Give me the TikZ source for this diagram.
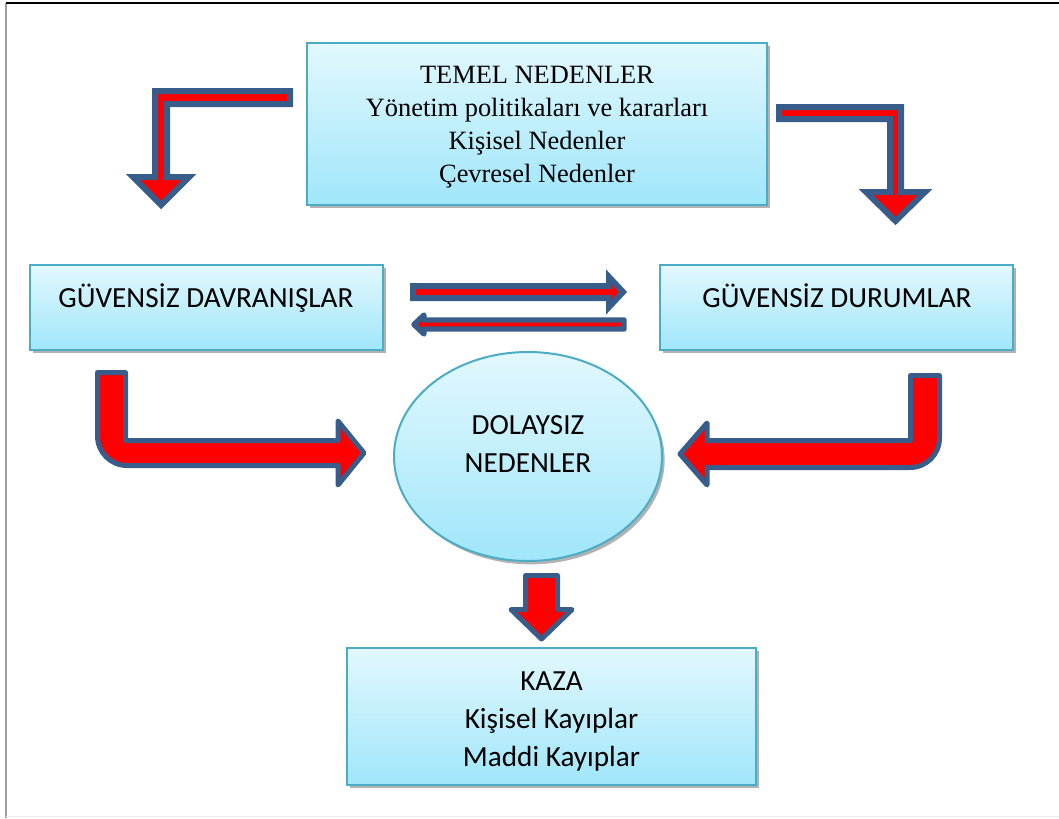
\documentclass[tikz,border=0pt]{standalone}
\usepackage{fontspec}
\setmainfont{Liberation Serif}
\setsansfont{Carlito}
\usetikzlibrary{shadows,fit,shapes.geometric}

\definecolor{boxedge}{RGB}{75,172,198}
\definecolor{boxtop}{RGB}{226,248,254}
\definecolor{boxbot}{RGB}{160,230,250}
\definecolor{arrowedge}{RGB}{56,93,138}
\definecolor{arrowfill}{RGB}{255,0,0}

\tikzset{
  panel/.style={draw=boxedge, line width=1.5pt, top color=boxtop, bottom color=boxbot,
    inner sep=0pt, drop shadow={shadow xshift=2pt, shadow yshift=-2.5pt, fill=black, opacity=0.3}},
  sanslabel/.style={font=\sffamily\fontsize{21.9}{28.5}\selectfont, align=center, inner sep=0pt},
  seriflabel/.style={font=\fontsize{19.8}{24.75}\selectfont, align=center, inner sep=0pt},
  blockarrow/.style={fill=arrowfill, draw=arrowedge, line width=4.5pt, line join=miter},
  roundarrow/.style={fill=arrowfill, draw=arrowedge, line width=3.75pt, line join=round},
}

\begin{document}
\begin{tikzpicture}[x=0.75pt, y=-0.75pt]
\useasboundingbox (0,0) rectangle (1059,818);

% page frame
\draw[gray!75, line width=1.5pt] (6,3) -- (6,818);
\draw[black, line width=1pt] (6,3) -- (1059,3);
\draw[gray!15, line width=0.75pt] (6,816.5) -- (1059,816.5);

% boxes
\node[panel, fit={(307,43) (767,205)}] (temel) {};
\node[seriflabel] (temeltxt) at (537,127.5)
  {TEMEL NEDENLER\\Yönetim politikaları ve kararları\\Kişisel Nedenler\\Çevresel Nedenler};

\node[panel, fit={(30,265) (383,350)}] (davr) {};
\node[sanslabel, anchor=base] (davrtxt) at (206,307) {GÜVENSİZ DAVRANIŞLAR};

\node[panel, fit={(660,265) (1013,350)}] (durum) {};
\node[sanslabel, anchor=base] (durumtxt) at (837,307) {GÜVENSİZ DURUMLAR};

\node[panel, ellipse, minimum width=268*0.75pt, minimum height=209*0.75pt] (dolay) at (528,456.5) {};
\node[sanslabel] (dolaytxt) at (528,444) {DOLAYSIZ\\NEDENLER};

\node[panel, fit={(347,648) (756,785)}] (kaza) {};
\node[sanslabel] (kazatxt) at (551.5,721) {KAZA\\Kişisel Kayıplar\\Maddi Kayıplar};

% bent arrow: root causes to unsafe acts
\draw[blockarrow] (290,91) -- (155,91) -- (155,177) -- (133,177) -- (161,205)
  -- (189,177) -- (167,177) -- (167,104) -- (290,104) -- cycle;

% bent arrow: root causes to unsafe conditions
\draw[blockarrow] (779,107) -- (901,107) -- (901,192) -- (925,192) -- (895.5,221)
  -- (866,192) -- (890,192) -- (890,119) -- (779,119) -- cycle;

% arrows between unsafe acts and unsafe conditions
\draw[blockarrow] (413,286) -- (609,286) -- (609,277) -- (623,292) -- (609,307)
  -- (609,298) -- (413,298) -- cycle;
\draw[roundarrow, line width=4.1pt] (624,320) -- (424,320) -- (424,315) -- (414,324.5)
  -- (424,334) -- (424,329) -- (624,329) -- cycle;

% curved arrow from unsafe acts into immediate causes
\draw[roundarrow] (97.5,372.5) -- (125.5,372.5) -- (125.5,440.5) -- (338,440.5)
  -- (338,421) -- (364,453) -- (338,485) -- (338,465.5) -- (127,465.5)
  .. controls (110.7,465.5) and (97.5,452.3) .. (97.5,436) -- cycle;

% curved arrow from unsafe conditions into immediate causes
\draw[roundarrow] (939.5,375.5) -- (910.5,375.5) -- (910.5,440.5) -- (707,440.5)
  -- (707,423) -- (680,454) -- (707,485) -- (707,467.5) -- (910,467.5)
  .. controls (926.3,467.5) and (939.5,454.3) .. (939.5,438) -- cycle;

% arrow down to the accident box
\draw[roundarrow] (525.5,575.5) -- (557.5,575.5) -- (557.5,609.5) -- (572,609.5)
  -- (541.5,639) -- (511,609.5) -- (525.5,609.5) -- cycle;
\end{tikzpicture}
\end{document}
